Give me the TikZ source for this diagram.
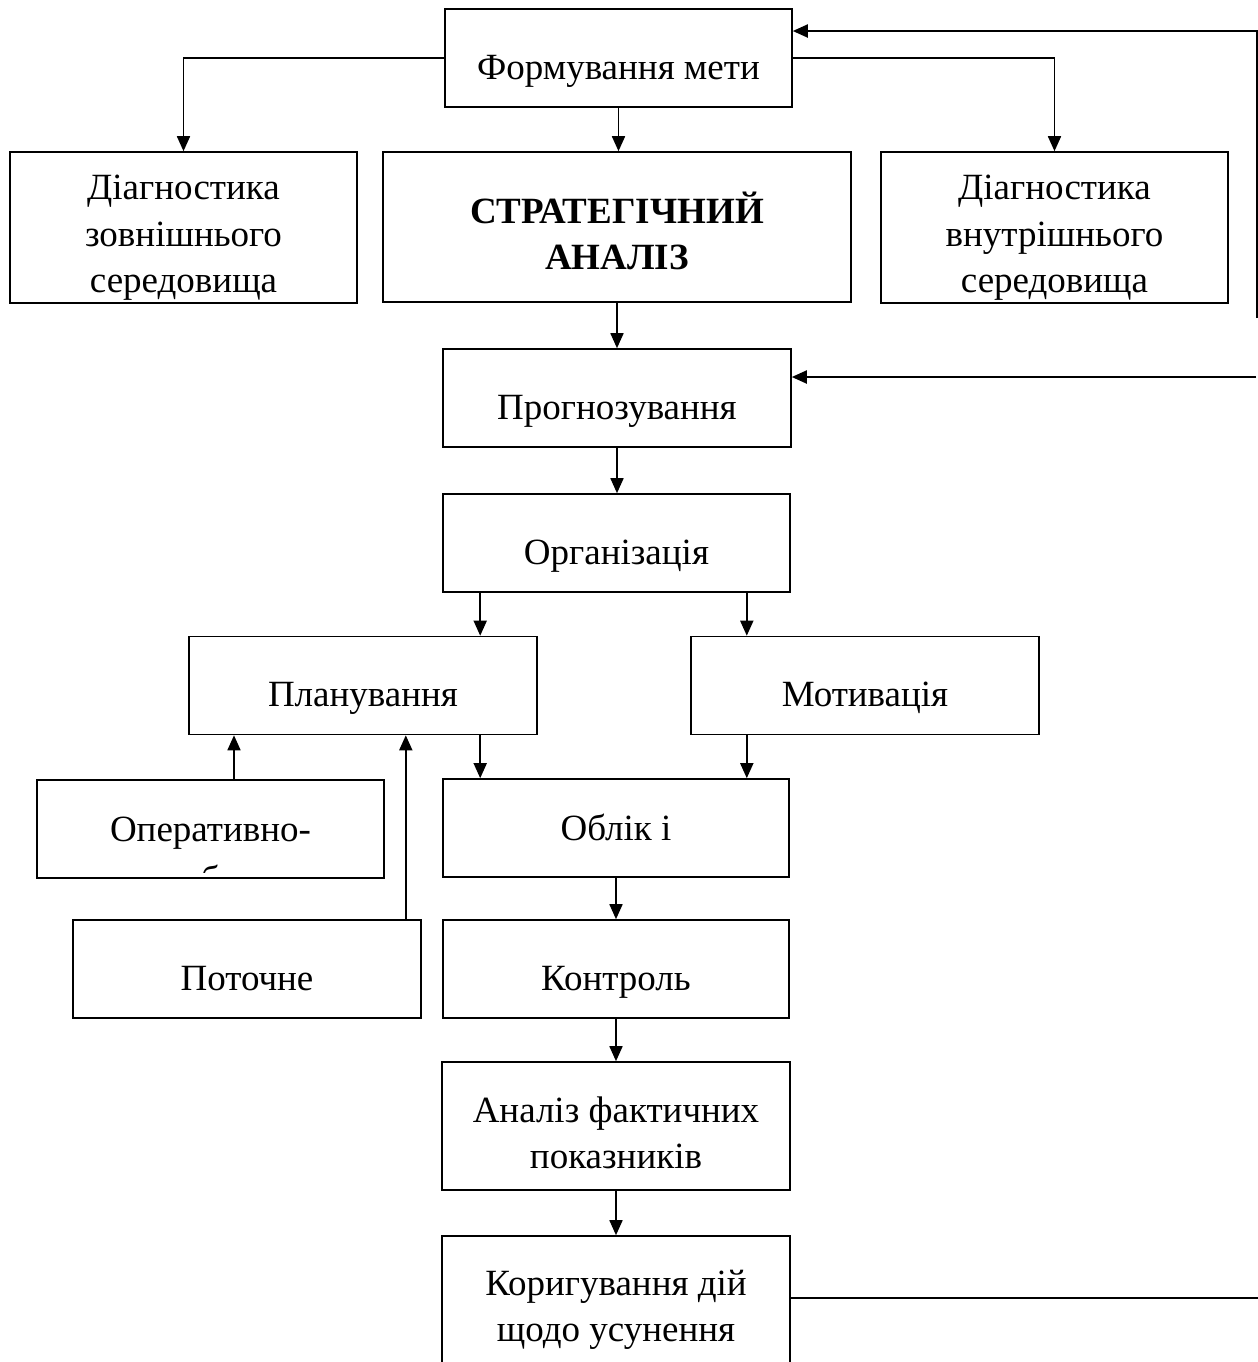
\documentclass[tikz,border=0pt]{standalone}
\usepackage{fontspec}
\setmainfont{Liberation Serif}
\usetikzlibrary{arrows.meta}
\newcommand{\pidp}{\rule{0pt}{19.5pt}}
\newcommand{\pidpp}{\rule{0pt}{22.5pt}}

\begin{document}
\begin{tikzpicture}[x=0.5pt,y=-0.5pt,>={Triangle[width=6.5pt,length=7.5pt]},
	blok/.style={draw,line width=0.8pt,inner sep=0pt,align=center,
		minimum width=173.5pt,minimum height=49pt,
		font=\fontsize{18.5}{23.25}\selectfont},
	odyn/.style={blok,text height=21pt,text depth=0pt},
	strilka/.style={->,line width=0.85pt}]
	\useasboundingbox (0,0) rectangle (1258,1362);
	\node[odyn] (meta) at (618.5,58) {Формування мети};
	\node[blok,minimum height=75.5pt] (zovn) at (183.5,227.5)
		{\pidpp Діагностика\\зовнішнього\\середовища};
	\node[blok,minimum width=234pt,minimum height=75pt,
		font={\fontsize{18.5}{23.25}\selectfont\bfseries}] (strat) at (617,227)
		{\pidp СТРАТЕГІЧНИЙ\\АНАЛІЗ};
	\node[blok,minimum height=75.5pt] (vnutr) at (1054.5,227.5)
		{\pidpp Діагностика\\внутрішнього\\середовища};
	\node[odyn,minimum width=174pt] (prognoz) at (617,398) {Прогнозування};
	\node[odyn] (org) at (616.5,543) {Організація};
	\node[odyn,minimum width=174pt] (plan) at (363,685.5) {Планування};
	\node[odyn,minimum width=174pt] (motiv) at (865,685.5) {Мотивація};
	\node[odyn,text height=12pt] (oper) at (210.5,829) {Оперативно-};
	\node[odyn,text height=12pt,minimum width=173pt] (oblik) at (616,828) {Облік і};
	\node[odyn,minimum width=174pt] (potoch) at (247,969) {Поточне};
	\node[odyn,minimum width=173pt] (kontrol) at (616,969) {Контроль};
	\node[blok,minimum width=174pt,minimum height=64pt] (analiz) at (616,1126)
		{\pidp Аналіз фактичних\\показників};
	\node[blok,minimum width=174pt,minimum height=67pt] (korig) at (616,1303)
		{\pidp Коригування дій\\щодо усунення};
	\begin{scope}
		\clip (oper.north west) rectangle ([yshift=3pt]oper.south east);
		\node[anchor=base,inner sep=0pt,font=\fontsize{18.5}{23.25}\selectfont]
			(oper-dali) at ([yshift=-25pt]oper.base) {виробниче};
	\end{scope}
	\coordinate (o1) at ([xshift=19pt]org.south west);
	\coordinate (o2) at ([xshift=-22pt]org.south east);
	\coordinate (p1) at ([xshift=11.75pt]oper.north);
	\coordinate (p2) at ([xshift=-8pt]potoch.north east);
	\coordinate (zv1) at (1257,31);
	\coordinate (zv2) at (1257,318);
	\coordinate (zv3) at (1256,377);
	\coordinate (zv4) at (1258,1298);
	\draw[strilka] (meta.west) -| (zovn.north);
	\draw[strilka] (meta.east) -| (vnutr.north);
	\draw[strilka] (meta.south) -- (meta.south |- strat.north);
	\draw[strilka] (strat.south) -- (strat.south |- prognoz.north);
	\draw[strilka] (prognoz.south) -- (prognoz.south |- org.north);
	\draw[strilka] (o1) -- (o1 |- plan.north);
	\draw[strilka] (o2) -- (o2 |- motiv.north);
	\draw[strilka] (o1 |- plan.south) -- (o1 |- oblik.north);
	\draw[strilka] (o2 |- motiv.south) -- (o2 |- oblik.north);
	\draw[strilka] (p1) -- (p1 |- plan.south);
	\draw[strilka] (p2) -- (p2 |- plan.south);
	\draw[strilka] (oblik.south) -- (oblik.south |- kontrol.north);
	\draw[strilka] (kontrol.south) -- (kontrol.south |- analiz.north);
	\draw[strilka] (analiz.south) -- (analiz.south |- korig.north);
	\draw[strilka,line width=1pt] (zv2) -- (zv1) -- (zv1 -| meta.east);
	\draw[strilka,line width=1pt] (zv3) -- (zv3 -| prognoz.east);
	\draw[line width=1.1pt] (zv4 -| korig.east) -- (zv4);
\end{tikzpicture}
\end{document}
